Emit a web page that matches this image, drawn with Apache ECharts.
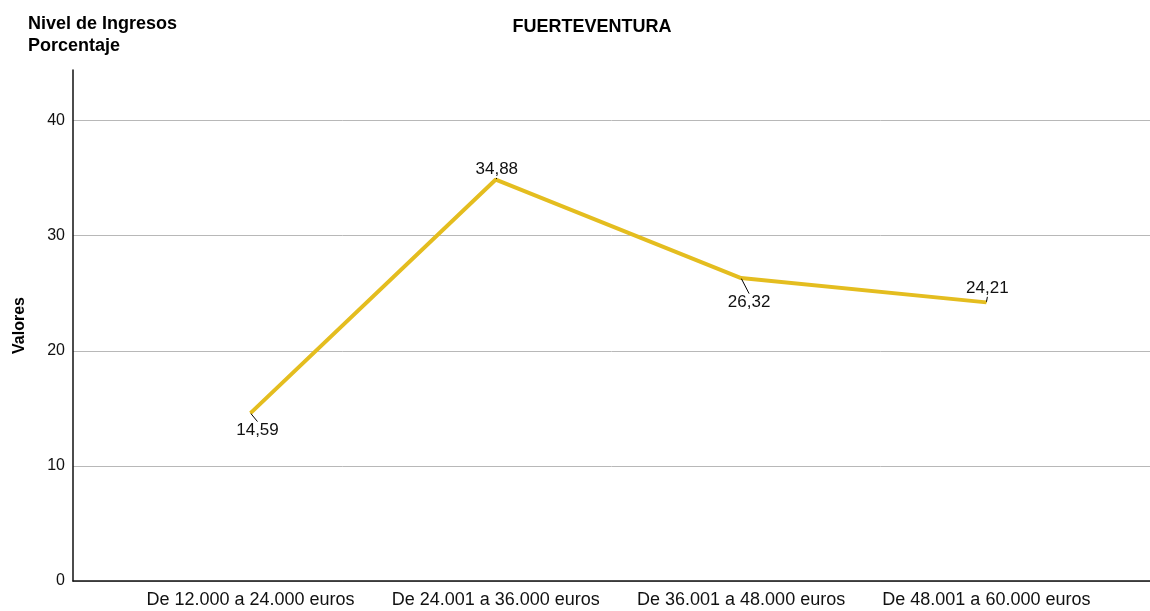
<!DOCTYPE html>
<html>
<head>
<meta charset="utf-8">
<script src="https://cdn.jsdelivr.net/npm/echarts@6/dist/echarts.min.js"></script>
<style>
  html, body { margin: 0; padding: 0; background: #fff; }
  #chart { width: 1150px; height: 611px; }
</style>
</head>
<body>
<div id="chart"></div>
<script>
// data
var categories = ['De 12.000 a 24.000 euros', 'De 24.001 a 36.000 euros', 'De 36.001 a 48.000 euros', 'De 48.001 a 60.000 euros'];
var values = [14.59, 34.88, 26.32, 24.21];
var yTicks = [0, 10, 20, 30, 40];

var myChart = echarts.init(document.getElementById('chart'));

// label offsets from each point (px)
var labelDx = [7, 1, 8, 1];
var labelDy = [17, -10, 24, -14];

var lineData = values.map(function(v, i) { return [i, v]; });

var option = {
    animation: false,
    textStyle: { fontFamily: 'Liberation Sans' },
    title: [{
        text: 'FUERTEVENTURA',
        left: 587,
        textAlign: 'center',
        top: 13,
        textStyle: { fontSize: 18, fontWeight: 'bold', color: '#000' }
    }, {
        text: 'Nivel de Ingresos\nPorcentaje',
        left: 23,
        top: 8,
        textStyle: { fontSize: 18, fontWeight: 'bold', color: '#000', lineHeight: 22 }
    }],
    grid: { left: 73, right: 0, top: 70, bottom: 30 },
    xAxis: {
        type: 'value',
        min: -0.7236,
        max: 3.667,
        axisLine: { show: true, onZero: false, lineStyle: { color: '#111', width: 1.5 } },
        axisTick: { show: false },
        splitLine: { show: false },
        axisLabel: {
            customValues: [0, 1, 2, 3],
            formatter: function(v) { return categories[Math.round(v)]; },
            color: '#111',
            fontSize: 18,
            margin: 10
        }
    },
    yAxis: {
        type: 'value',
        min: 0,
        max: 44.4,
        interval: 10,
        name: 'Valores',
        nameLocation: 'middle',
        nameGap: 45,
        nameRotate: 90,
        nameTextStyle: { fontSize: 16, fontWeight: 'bold', color: '#000' },
        axisLine: { show: true, onZero: false, lineStyle: { color: '#111', width: 1.5 } },
        axisTick: { show: false },
        axisLabel: {
            customValues: yTicks,
            color: '#111',
            fontSize: 16,
            margin: 8
        },
        splitLine: { show: true, showMaxLine: false, lineStyle: { color: '#b8b8b8', width: 1 } }
    },
    series: [{
        type: 'line',
        data: lineData,
        showSymbol: true,
        symbol: 'circle',
        symbolSize: 1,
        itemStyle: { color: '#e4bd1f' },
        lineStyle: { color: '#e4bd1f', width: 4 },
        label: {
            show: true,
            position: 'inside',
            color: '#111',
            fontSize: 17,
            formatter: function(p) { return p.value[1].toFixed(2).replace('.', ','); }
        },
        labelLine: { show: true, lineStyle: { color: '#000', width: 1 } },
        labelLayout: function(p) {
            return { dx: labelDx[p.dataIndex], dy: labelDy[p.dataIndex] };
        }
    }]
};
myChart.setOption(option);
</script>
</body>
</html>
